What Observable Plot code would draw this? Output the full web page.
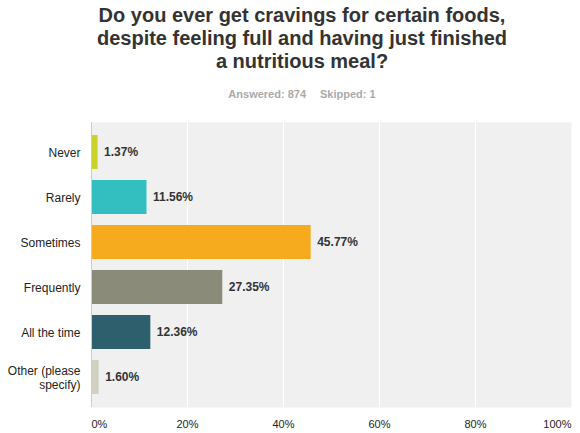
<!DOCTYPE html>
<html><head><meta charset="utf-8">
<script src="https://cdn.jsdelivr.net/npm/d3@7"></script>
<script src="https://cdn.jsdelivr.net/npm/@observablehq/plot@0.6"></script>
<style>
body{margin:0;background:#fff;font-family:"Liberation Sans",Arial,sans-serif;}
#wrap{position:relative;width:580px;height:433px;overflow:hidden;}
#title{position:absolute;left:24px;width:556px;top:4px;text-align:center;font-size:20px;font-weight:bold;line-height:23px;color:#333;}
#sub{position:absolute;left:24px;width:556px;top:88px;text-align:center;font-size:11px;font-weight:bold;color:#aaa;}
#sub span+span{margin-left:14px;}
#chart{position:absolute;left:0;top:105px;}
</style></head>
<body>
<div id="wrap">
<div id="title">Do you ever get cravings for certain foods,<br>despite feeling full and having just finished<br>a nutritious meal?</div>
<div id="sub"><span>Answered: 874</span><span>Skipped: 1</span></div>
<div id="chart"></div>
</div>
<script>
const categories = ["Never","Rarely","Sometimes","Frequently","All the time","Other (please specify)"];
const values = [1.37, 11.56, 45.77, 27.35, 12.36, 1.60];
const colors = ["#c9d329","#33bfbf","#f6ab1f","#8b8b7a","#2d5f6c","#d1d1c1"];
const tickValues = [0,20,40,60,80,100];

const data = categories.map((c,i)=>({category:c, value:values[i], color:colors[i]}));

const chart = Plot.plot({
  width:580, height:328,
  marginTop:17, marginBottom:26, marginLeft:91, marginRight:9,
  style:{fontFamily:"'Liberation Sans', Arial, sans-serif", color:"#222"},
  x:{domain:[0,100]},
  y:{domain:categories, paddingInner:0.235, paddingOuter:0.1175, insetTop:5, insetBottom:5},
  marks:[
    Plot.frame({fill:"#f0f0f0", stroke:null}),
    Plot.ruleX([20,40,60,80], {stroke:"#fff", strokeWidth:1}),
    Plot.barX(data, {y:"category", x1:0, x2:"value", fill:d=>d.color}),
    Plot.text(data, {y:"category", x:"value", text:d=>d.value.toFixed(2)+"%", textAnchor:"start", dx:6, fontWeight:"bold", fontSize:12, fill:"#333"}),
    Plot.ruleX([0], {stroke:"#ccc", strokeWidth:1}),
    Plot.ruleY([0], {frameAnchor:"bottom", stroke:"#dcdcdc", strokeWidth:3}),
    Plot.axisY({tickSize:0, tickPadding:11, fontSize:12, label:null, lineHeight:1.2,
      tickFormat:d=>d==="Other (please specify)"?"Other (please\nspecify)":d}),
    Plot.axisX({ticks:tickValues.slice(1,-1), tickSize:0, tickPadding:13, fontSize:11, label:null, tickFormat:d=>d+"%"}),
    Plot.axisX({ticks:tickValues.slice(0,1), tickSize:0, tickPadding:13, fontSize:11, label:null, textAnchor:"start", tickFormat:d=>d+"%"}),
    Plot.axisX({ticks:tickValues.slice(-1), tickSize:0, tickPadding:13, fontSize:11, label:null, textAnchor:"end", tickFormat:d=>d+"%"})
  ]
});
document.getElementById("chart").appendChild(chart);
</script>
</body></html>
